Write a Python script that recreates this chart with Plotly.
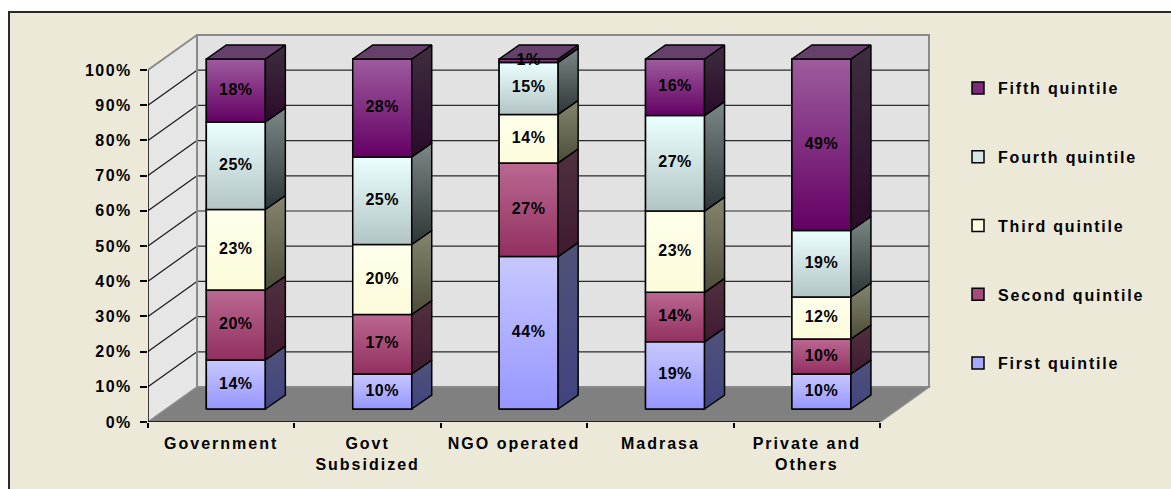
import plotly.graph_objects as go

# ---- data -------------------------------------------------------------
categories = ["Government", "Govt<br>Subsidized", "NGO operated", "Madrasa", "Private and<br>Others"]
quintiles = ["First quintile", "Second quintile", "Third quintile", "Fourth quintile", "Fifth quintile"]
first_q = [14, 10, 44, 19, 10]
second_q = [20, 17, 27, 14, 10]
third_q = [23, 20, 14, 23, 12]
fourth_q = [25, 25, 15, 27, 19]
fifth_q = [18, 28, 1, 16, 49]
y_ticks = [0, 10, 20, 30, 40, 50, 60, 70, 80, 90, 100]

series = [first_q, second_q, third_q, fourth_q, fifth_q]

# ---- styling: (front top, front bottom, side top, side bottom, top face, swatch)
palette = [
    ("#c8c8ff", "#9696ff", "#50527a", "#40447e", "#6e70b0", "#a8a8ff"),
    ("#ba6892", "#923060", "#50303f", "#401a30", "#7a3c5c", "#a64a7c"),
    ("#ffffec", "#fcfbda", "#86866f", "#4c4c3a", "#c8c8b0", "#ffffe0"),
    ("#ecffff", "#b2c4c4", "#7c8787", "#2c3636", "#a8b8b8", "#d4e6e6"),
    ("#9e5c9e", "#640064", "#3e2e3e", "#2a0a2a", "#64406a", "#7c2a7c"),
]
FONT = "Liberation Sans Narrow, Arial Narrow, Liberation Sans, Arial, sans-serif"

# ---- pseudo-3D geometry (axis units) ------------------------------------
X_PX, Y_PX = 146.4, 3.52                 # pixels per category / per percent
PLOT_L, PLOT_R, PLOT_T, PLOT_B = 148, 933, 31, 422
X0 = -0.5
X_END = len(categories) - 0.5
X1 = X0 + (PLOT_R - PLOT_L) / X_PX
Y1 = (PLOT_B - PLOT_T) / Y_PX
WALL_DX, WALL_DY = 49 / X_PX, 35 / Y_PX  # depth of the back wall
BAR_SHIFT = 0.10                          # bar front face offset from category centre
BAR_BASE = 13 / Y_PX                      # bar sits part-way back on the floor
BAR_W = 59 / X_PX
SIDE_DX, SIDE_DY = 20 / X_PX, 14 / Y_PX   # bar depth
BAR_SCALE = 350 / 352


def paper_x(px):
    return (px - PLOT_L) / (PLOT_R - PLOT_L)


def paper_y(py):
    return (PLOT_B - py) / (PLOT_B - PLOT_T)


def poly(points):
    return "M " + " L ".join(f"{x},{y}" for x, y in points) + " Z"


shapes = [
    # outer chart frame
    dict(type="rect", xref="paper", yref="paper", layer="below",
         x0=paper_x(9), x1=paper_x(1190), y0=paper_y(12), y1=paper_y(510),
         fillcolor="#ece9d8", line=dict(color="#2a2a2a", width=2)),
    # back wall
    dict(type="rect", xref="x", yref="y", layer="below",
         x0=X0 + WALL_DX, x1=X_END + WALL_DX, y0=WALL_DY, y1=100 + WALL_DY,
         fillcolor="#e2e2e2", line=dict(color="#8a8a8a", width=2)),
    # left side wall
    dict(type="path", xref="x", yref="y", layer="below",
         path=poly([(X0, 0), (X0 + WALL_DX, WALL_DY), (X0 + WALL_DX, 100 + WALL_DY), (X0, 100)]),
         fillcolor="#e6e6e6", line=dict(width=0)),
    # floor
    dict(type="path", xref="x", yref="y", layer="below",
         path=poly([(X0, 0), (X_END, 0), (X_END + WALL_DX, WALL_DY), (X0 + WALL_DX, WALL_DY)]),
         fillcolor="#808080", line=dict(color="#8a8a8a", width=1.5)),
]
for v in y_ticks[1:-1]:
    shapes.append(dict(type="line", xref="x", yref="y", layer="below",
                       x0=X0 + WALL_DX, x1=X_END + WALL_DX, y0=v + WALL_DY, y1=v + WALL_DY,
                       line=dict(color="#2a2a2a", width=1.2)))
    shapes.append(dict(type="line", xref="x", yref="y", layer="below",
                       x0=X0, x1=X0 + WALL_DX, y0=v, y1=v + WALL_DY,
                       line=dict(color="#1a1a1a", width=1.2)))
shapes += [
    dict(type="line", xref="x", yref="y", layer="below",
         x0=X0, x1=X0 + WALL_DX, y0=100, y1=100 + WALL_DY,
         line=dict(color="#8a8a8a", width=2)),
    dict(type="line", xref="x", yref="y", layer="below",
         x0=X0 + WALL_DX, x1=X0 + WALL_DX, y0=WALL_DY, y1=100 + WALL_DY,
         line=dict(color="#8a8a8a", width=2)),
    # front axis lines
    dict(type="line", xref="x", yref="y", layer="below",
         x0=X0, x1=X0, y0=0, y1=100, line=dict(color="black", width=1.5)),
    dict(type="line", xref="x", yref="y", layer="below",
         x0=X0, x1=X_END, y0=0, y1=0, line=dict(color="black", width=1.5)),
]

fig = go.Figure()

# 100% stacking: each column normalised to its own total
totals = [sum(col) for col in zip(*series)]
x_pos = list(range(len(categories)))
shares = [[v / t * 100 * BAR_SCALE for v, t in zip(s, totals)] for s in series]
bases = []
running = [BAR_BASE] * len(categories)
for s in shares:
    bases.append(list(running))
    running = [r + h for r, h in zip(running, s)]

# front faces as bars (these also carry the legend); top quintile listed first
for name, s, b, col in reversed(list(zip(quintiles, shares, bases, palette))):
    fig.add_trace(go.Bar(
        x=[p + BAR_SHIFT for p in x_pos], y=s, base=b, width=BAR_W, name=name,
        legendgroup=name, marker=dict(color=col[5], line=dict(color="black", width=1.5)),
        hoverinfo="skip"))

# shaded front faces, right-hand sides and the top face of each column
label_x, label_y, label_t = [], [], []
for i, p in enumerate(x_pos):
    xl = p + BAR_SHIFT - BAR_W / 2
    xr = p + BAR_SHIFT + BAR_W / 2
    for j, (s, b, col) in enumerate(zip(shares, bases, palette)):
        y0, y1 = b[i], b[i] + s[i]
        fig.add_trace(go.Scatter(
            x=[xl, xr, xr, xl, xl], y=[y0, y0, y1, y1, y0], mode="lines", fill="toself",
            fillgradient=dict(type="vertical", colorscale=[[0, col[1]], [1, col[0]]]),
            line=dict(color="black", width=1.5), showlegend=False, hoverinfo="skip"))
        fig.add_trace(go.Scatter(
            x=[xr, xr + SIDE_DX, xr + SIDE_DX, xr, xr],
            y=[y0, y0 + SIDE_DY, y1 + SIDE_DY, y1, y0], mode="lines", fill="toself",
            fillgradient=dict(type="vertical", colorscale=[[0, col[3]], [1, col[2]]]),
            line=dict(color="black", width=1.5), showlegend=False, hoverinfo="skip"))
        label_x.append((xl + xr) / 2)
        label_y.append((y0 + y1) / 2)
        label_t.append(f"{series[j][i]}%")
    top = bases[-1][i] + shares[-1][i]
    fig.add_trace(go.Scatter(
        x=[xl, xr, xr + SIDE_DX, xl + SIDE_DX, xl],
        y=[top, top, top + SIDE_DY, top + SIDE_DY, top], mode="lines", fill="toself",
        fillcolor=palette[-1][4], line=dict(color="black", width=1.5),
        showlegend=False, hoverinfo="skip"))

fig.add_trace(go.Scatter(
    x=label_x, y=label_y, text=label_t, mode="text", cliponaxis=False,
    textfont=dict(family=FONT, size=16, color="black", weight="bold"),
    showlegend=False, hoverinfo="skip"))

fig.update_layout(
    width=1171, height=489,
    margin=dict(l=PLOT_L, r=1171 - PLOT_R, t=PLOT_T, b=489 - PLOT_B, pad=0),
    paper_bgcolor="white", plot_bgcolor="rgba(0,0,0,0)",
    barmode="overlay", showlegend=True,
    font=dict(family=FONT, size=16, color="black", weight="bold"),
    shapes=shapes,
    xaxis=dict(range=[X0, X1], tickmode="array", tickvals=x_pos, ticktext=categories,
               ticks="", showgrid=False, zeroline=False, showline=False,
               ticklabelstandoff=10,
               minor=dict(tickmode="array", tickvals=[p - 0.5 for p in x_pos] + [X_END],
                          ticks="outside", ticklen=5, tickcolor="black", tickwidth=1.5,
                          showgrid=False),
               tickfont=dict(family=FONT, size=16, color="black", weight="bold")),
    yaxis=dict(range=[0, Y1], tickmode="array", tickvals=y_ticks,
               ticktext=[f"{v}%" for v in y_ticks],
               ticks="outside", ticklen=7, tickcolor="black", tickwidth=1.5,
               showgrid=False, zeroline=False, showline=False, ticklabelstandoff=5,
               tickfont=dict(family=FONT, size=16, color="black", weight="bold")),
    legend=dict(x=paper_x(958), y=paper_y(71), xanchor="left", yanchor="top",
                traceorder="grouped", tracegroupgap=45,
                bgcolor="rgba(0,0,0,0)",
                font=dict(family=FONT, size=16, color="black", weight="bold")),
)

# widen the character spacing of axis, legend and bar labels
post = """
var gd = document.getElementById('{plot_id}');
function spread(sel, v) {
  gd.querySelectorAll(sel).forEach(function (e) { e.style.letterSpacing = v; });
}
spread('.xtick text', '2px');
spread('.ytick text', '1.5px');
spread('.legendtext', '1.8px');
spread('.textpoint text', '0.5px');
gd.querySelectorAll('.legend .scrollbox').forEach(function (e) { e.removeAttribute('clip-path'); });
"""

fig.write_html("out.html", post_script=post)
